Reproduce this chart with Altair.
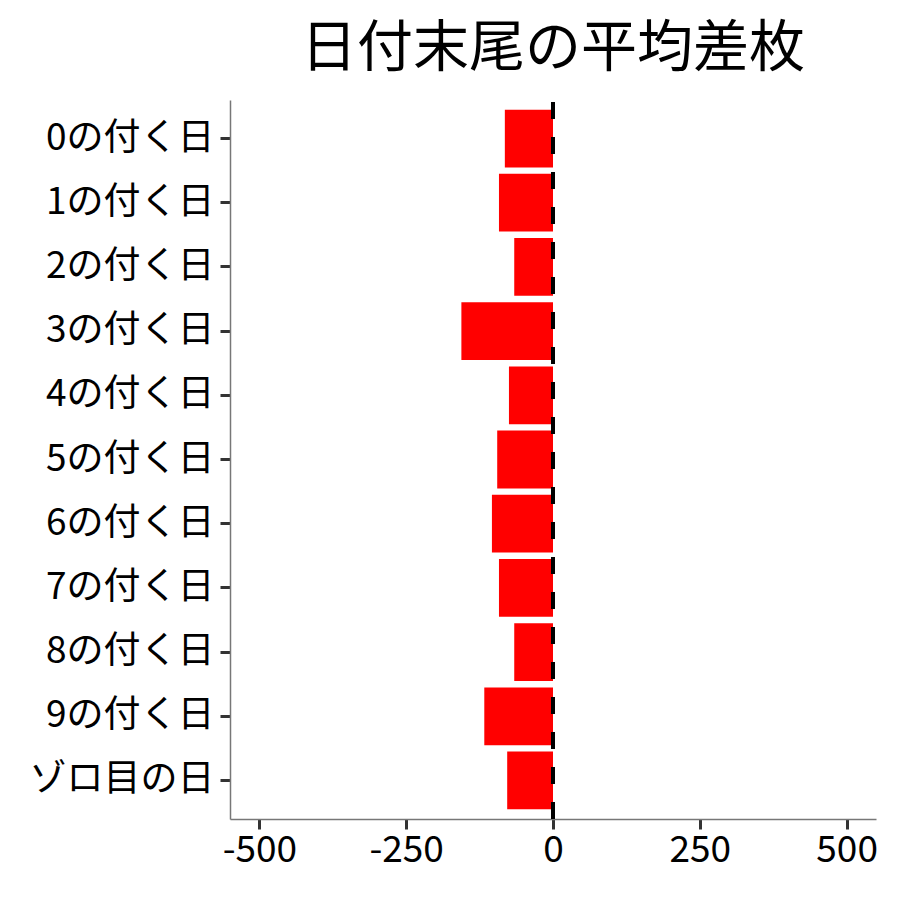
import altair as alt
import pandas as pd

categories = ["0の付く日", "1の付く日", "2の付く日", "3の付く日", "4の付く日",
              "5の付く日", "6の付く日", "7の付く日", "8の付く日", "9の付く日", "ゾロ目の日"]
values = [-82, -92, -66, -156, -75, -95, -104, -92, -66, -117, -78]
x_ticks = [-500, -250, 0, 250, 500]

df = pd.DataFrame({"cat": categories, "val": values})

W, H = 646, 719
FONT = "Noto Sans CJK JP"

bars = alt.Chart(df).mark_bar(color="#FF0000").encode(
    x=alt.X("val:Q",
            scale=alt.Scale(domain=[-550, 550], nice=False, zero=False),
            axis=alt.Axis(values=x_ticks, title=None, grid=False,
                          labelExpr="replace(format(datum.value, 'd'), '\u2212', '-')",
                          labelFontSize=37, labelFont=FONT, labelColor="#000000",
                          labelPadding=3, tickSize=10, tickWidth=3,
                          tickColor="#333333", domainColor="#777777", domainWidth=1.5,
                          labelFlush=False)),
    y=alt.Y("cat:N", sort=categories,
            scale=alt.Scale(paddingInner=0.1, paddingOuter=0.15),
            axis=alt.Axis(title=None, grid=False, labelLimit=400,
                          labelFontSize=37, labelFont=FONT, labelColor="#000000",
                          labelPadding=6, tickSize=10, tickWidth=3,
                          tickColor="#333333", domainColor="#777777", domainWidth=1.5)),
)

rule = alt.Chart(df).mark_rule(color="#000000", strokeWidth=3.5, strokeDash=[17, 18]).encode(
    x=alt.datum(0),
    y=alt.value(H),
    y2=alt.value(0),
)

chart = alt.layer(bars, rule).properties(
    width=W,
    height=H,
    background="white",
    title=alt.TitleParams("日付末尾の平均差枚", fontSize=56, font=FONT,
                          fontWeight="normal", color="#000000",
                          anchor="middle", offset=20),
    autosize=alt.AutoSizeParams(type="none"),
    padding={"left": 222, "top": 92, "right": 16, "bottom": 75},
).configure_view(strokeWidth=0, stroke=None)

chart.save("out.html", embed_options={"renderer": "svg", "actions": False})
